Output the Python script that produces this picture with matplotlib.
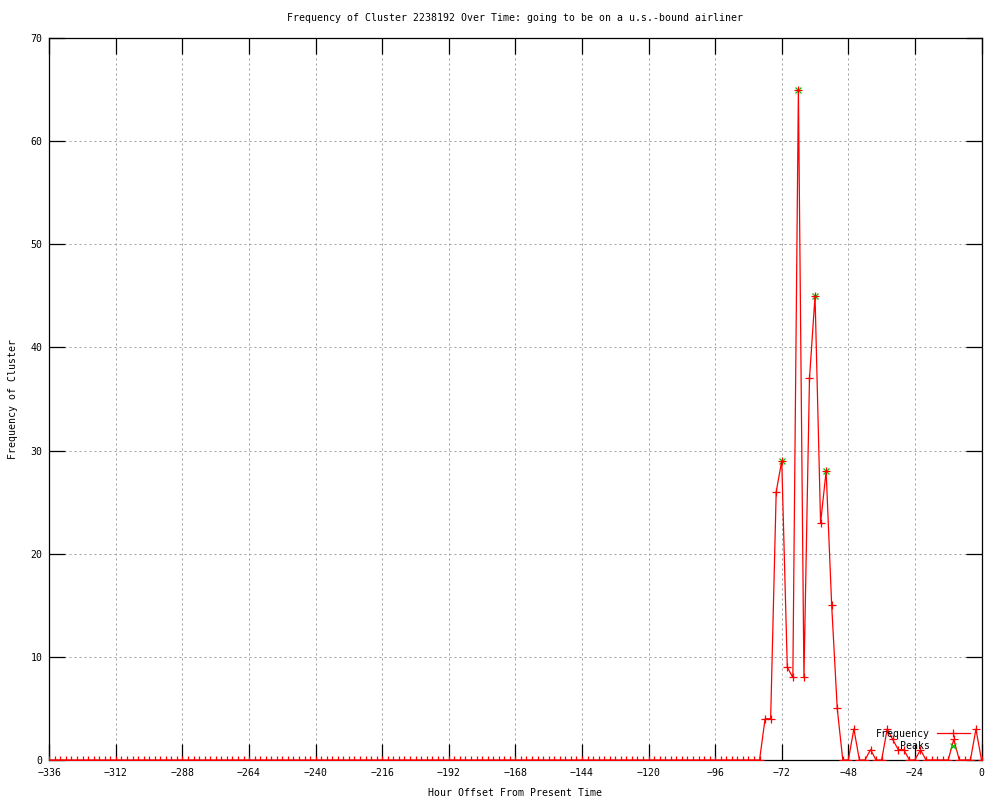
import matplotlib
matplotlib.use("Agg")
import matplotlib.pyplot as plt

# ---- data ----
hours = list(range(-336, 1, 2))
freq_early = [0, 0, 0, 0, 0, 0, 0, 0, 0, 0, 0, 0, 0, 0, 0, 0, 0, 0, 0, 0,
              0, 0, 0, 0, 0, 0, 0, 0, 0, 0, 0, 0, 0, 0, 0, 0, 0, 0, 0, 0,
              0, 0, 0, 0, 0, 0, 0, 0, 0, 0, 0, 0, 0, 0, 0, 0, 0, 0, 0, 0,
              0, 0, 0, 0, 0, 0, 0, 0, 0, 0, 0, 0, 0, 0, 0, 0, 0, 0, 0, 0,
              0, 0, 0, 0, 0, 0, 0, 0, 0, 0, 0, 0, 0, 0, 0, 0, 0, 0, 0, 0,
              0, 0, 0, 0, 0, 0, 0, 0, 0, 0, 0, 0, 0, 0, 0, 0, 0, 0, 0, 0,
              0, 0, 0, 0, 0, 0, 0, 0, 0]          # -336 .. -80
freq_late = [4, 4, 26, 29, 9, 8, 65, 8, 37, 45,        # -78 .. -60
             23, 28, 15, 5, 0, 0, 3, 0, 0, 1,          # -58 .. -40
             0, 0, 3, 2, 1, 1, 0, 0, 1, 0,             # -38 .. -20
             0, 0, 0, 0, 2, 0, 0, 0, 3, 0]             # -18 .. 0
freq = freq_early + freq_late

peak_hours = [-72, -66, -60, -56]
peak_values = [29, 65, 45, 28]

x_ticks = list(range(-336, 1, 24))
y_ticks = list(range(0, 71, 10))

title = "Frequency of Cluster 2238192 Over Time: going to be on a u.s.-bound airliner"
xlabel = "Hour Offset From Present Time"
ylabel = "Frequency of Cluster"

# ---- style ----
FONT = "DejaVu Sans Mono"
FS = 7.15
plt.rcParams["font.family"] = FONT
plt.rcParams["font.size"] = FS

fig = plt.figure(figsize=(10, 8), dpi=100)
ax = fig.add_axes([0.0493, 0.05, 0.9322, 0.9025])

ax.plot(hours, freq, color="#ff0000", lw=0.9, marker="+", ms=6, mew=0.9,
        label="Frequency", zorder=3)
ax.plot(peak_hours, peak_values, ls="none", color="#00c000", marker="x",
        ms=5, mew=0.9, label="Peaks", zorder=2)

ax.set_xlim(-336, 0)
ax.set_ylim(0, 70)
ax.set_xticks(x_ticks)
ax.set_yticks(y_ticks)
ax.tick_params(direction="in", length=11.5, width=0.9, top=True, right=True,
               labelsize=FS, color="black")
ax.tick_params(axis="x", pad=6)
ax.tick_params(axis="y", pad=5)
ax.grid(True, color="#a0a0a0", lw=0.72, ls=(0, (2, 3)))
for s in ax.spines.values():
    s.set_linewidth(0.9)

fig.text(0.515, 1 - 18 / 800, title, ha="center", va="center", fontsize=FS)
fig.text(0.515, 1 - 793 / 800, xlabel, ha="center", va="center", fontsize=FS)
fig.text(0.013, 1 - 399 / 800, ylabel, ha="center", va="center",
         rotation=90, fontsize=FS)

leg = ax.legend(loc="lower right", bbox_to_anchor=(0.9877, 0.012),
                frameon=False, markerfirst=False, fontsize=FS,
                handlelength=3.35, handletextpad=0.7, labelspacing=0.25,
                borderpad=0, borderaxespad=0)

fig.savefig("out.png", dpi=100)
